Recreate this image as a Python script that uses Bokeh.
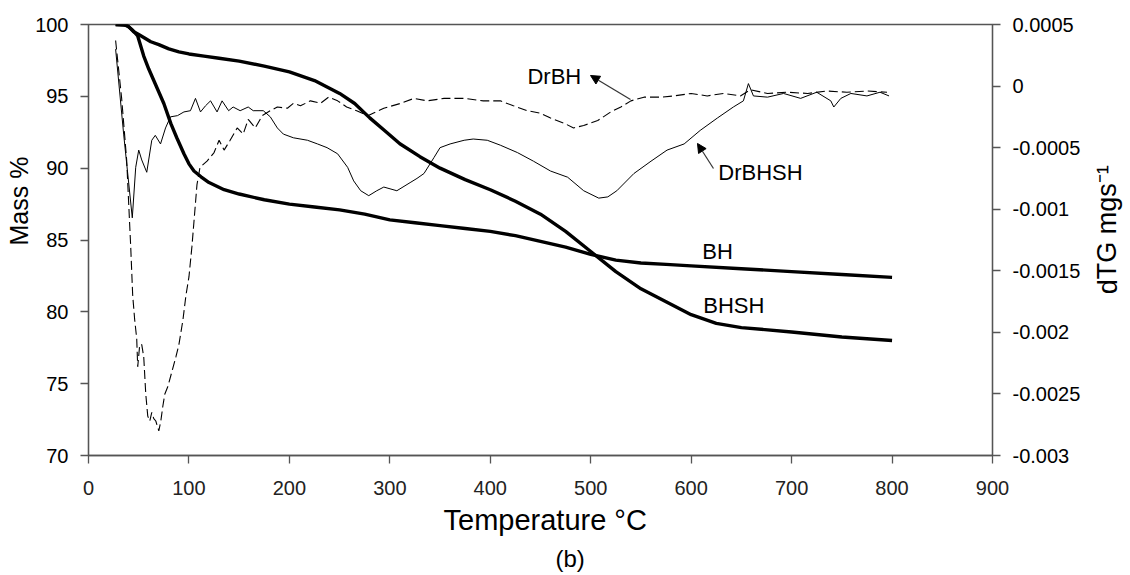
from bokeh.plotting import figure
from bokeh.layouts import row
from bokeh.models import Range1d, LinearAxis, FixedTicker, Label, Arrow, NormalHead, Title
from bokeh.embed import file_html
from bokeh.resources import INLINE

# ---------------- data ----------------
bh_t = [27, 38, 44, 49, 55, 60, 65, 70, 75, 82, 88, 95, 100, 105, 112, 120, 135, 150, 175, 200,
        225, 250, 275, 300, 325, 350, 375, 400, 425, 450, 475, 500, 525, 550, 575, 600, 650, 700, 750, 800]
bh_m = [100, 99.95, 99.6, 99.2, 97.8, 96.9, 96.1, 95.3, 94.5, 93.1, 92.1, 91.0, 90.3, 89.8, 89.4, 89.0,
        88.5, 88.2, 87.8, 87.5, 87.3, 87.1, 86.8, 86.4, 86.2, 86.0, 85.8, 85.6, 85.3, 84.9, 84.5, 84.0,
        83.6, 83.4, 83.3, 83.2, 83.0, 82.8, 82.6, 82.4]

bhsh_t = [27, 35, 40, 45, 50, 55, 62, 70, 80, 90, 100, 115, 130, 150, 175, 200, 225, 250, 265, 280, 295,
          310, 330, 350, 375, 400, 425, 450, 475, 500, 525, 550, 575, 600, 625, 650, 700, 750, 800]
bhsh_m = [100, 100, 99.85, 99.5, 99.3, 99.1, 98.8, 98.6, 98.3, 98.1, 97.95, 97.8, 97.65, 97.45, 97.1, 96.7,
          96.1, 95.2, 94.5, 93.5, 92.6, 91.7, 90.8, 90.0, 89.2, 88.5, 87.7, 86.8, 85.6, 84.2, 82.8, 81.6,
          80.7, 79.8, 79.2, 78.9, 78.6, 78.25, 78.0]

drbh_t = [27, 33, 38, 42, 44, 46, 48, 49, 51, 53, 55, 57, 59, 61, 63, 65, 67, 70, 72, 74, 76, 79, 83, 87,
          90, 94, 97, 100, 103, 106, 108, 111, 118, 125, 130, 135, 141, 148, 154, 159, 166, 173, 181, 188,
          198, 204, 211, 221, 231, 239, 248, 257, 267, 278, 294, 311, 324, 337, 354, 374, 393, 410, 423,
          437, 450, 460, 473, 483, 493, 507, 520, 530, 540, 553, 570, 583, 600, 616, 632, 649, 659, 676,
          696, 716, 735, 755, 775, 795]
drbh_d = [0.00037, -0.0001, -0.0006, -0.0013, -0.0017, -0.0019, -0.00205, -0.00228, -0.0021, -0.0021,
          -0.0022, -0.0025, -0.00268, -0.00272, -0.00265, -0.0027, -0.00272, -0.0028, -0.00272, -0.0026,
          -0.0025, -0.00244, -0.00232, -0.0022, -0.0021, -0.0019, -0.0017, -0.00155, -0.0013, -0.001,
          -0.0008, -0.00066, -0.00061, -0.00054, -0.00044, -0.00052, -0.00044, -0.00034, -0.00039,
          -0.00027, -0.00034, -0.00024, -0.0002, -0.00017, -0.00018, -0.00014, -0.00016, -0.00012,
          -0.00014, -0.00009, -0.00012, -0.00017, -0.0002, -0.00024, -0.00018, -0.00014, -0.0001,
          -0.00012, -0.0001, -0.0001, -0.00012, -0.00012, -0.00016, -0.0002, -0.00022, -0.00026, -0.0003,
          -0.00034, -0.00032, -0.00028, -0.00021, -0.00017, -0.00012, -0.00009, -0.00009, -0.00008,
          -0.00006, -0.00008, -0.00006, -0.00008, -0.00003, -0.00006, -0.00005, -0.00006, -0.00004,
          -0.00005, -0.00004, -0.00005]

drbhsh_t = [27, 35, 43.6, 47, 50, 53, 58, 63, 66.5, 71.7, 76.7, 81.6, 88.6, 95, 101.5, 106.5, 111.5, 116.5,
            121.5, 128, 133, 139.5, 144, 151, 159, 164, 174, 181, 188, 194, 204, 218, 228, 237.5, 248, 258,
            264, 271, 279, 287, 294, 307, 321, 327, 334, 344, 350, 360, 374, 383, 397, 410, 427, 443, 460,
            477, 493, 508, 517, 526, 543, 560, 576, 593, 609, 626, 642, 652, 657, 662, 676, 692, 709, 725,
            739, 742, 749, 759, 775, 788, 797]
drbhsh_d = [0.0003, -0.00039, -0.00107, -0.00066, -0.00052, -0.0006, -0.0007, -0.00044, -0.0004, -0.00047,
            -0.00034, -0.00025, -0.00024, -0.00021, -0.0002, -0.0001, -0.00021, -0.00016, -0.00012,
            -0.00021, -0.00012, -0.0002, -0.00017, -0.0002, -0.00017, -0.0002, -0.0002, -0.00025, -0.00034,
            -0.00039, -0.00042, -0.00044, -0.00047, -0.0005, -0.00055, -0.00066, -0.00077, -0.00085,
            -0.00089, -0.00085, -0.00082, -0.00085, -0.00078, -0.00075, -0.00071, -0.00058, -0.0005,
            -0.00047, -0.00044, -0.00043, -0.00044, -0.00048, -0.00054, -0.00061, -0.00069, -0.00074,
            -0.00085, -0.00091, -0.0009, -0.00085, -0.00071, -0.00061, -0.00052, -0.00047, -0.00036,
            -0.00026, -0.00017, -0.00012, 0.00002, -0.00008, -0.00009, -0.00006, -0.0001, -0.00005,
            -0.00012, -0.00017, -0.0001, -0.00006, -0.00008, -0.00005, -0.00008]

x_ticks = [0, 100, 200, 300, 400, 500, 600, 700, 800, 900]
mass_ticks = [70, 75, 80, 85, 90, 95, 100]
dtg_ticks = [0.0005, 0, -0.0005, -0.001, -0.0015, -0.002, -0.0025, -0.003]
dtg_tick_labels = ["0.0005", "0", "-0.0005", "-0.001", "-0.0015", "-0.002", "-0.0025", "-0.003"]

FONT = "Liberation Sans"
AXC = "#555555"
W, H = 1088, 575          # main chart
W2 = 38                   # narrow strip that holds the right-axis title
FL, FT, FR, FB = 88, 24, 992, 455   # frame edges in page pixels

p = figure(width=W, height=H, x_range=Range1d(0, 900), y_range=Range1d(70, 100),
           output_backend="svg", toolbar_location=None, title=None,
           min_border_left=FL, min_border_right=W - FR, min_border_top=FT, min_border_bottom=H - FB)
p.extra_y_ranges = {"dtg": Range1d(-0.003, 0.0005)}
p.xgrid.visible = False
p.ygrid.visible = False
p.outline_line_color = AXC
p.outline_line_width = 1.3
p.background_fill_color = "white"
p.border_fill_color = "white"

def style(ax, size, standoff, color="black"):
    ax.axis_line_color = AXC
    ax.axis_line_width = 1.3
    ax.major_tick_line_color = AXC
    ax.major_tick_line_width = 1.3
    ax.major_tick_out = 8
    ax.major_tick_in = 0
    ax.minor_tick_line_color = None
    ax.major_label_text_font = FONT
    ax.major_label_text_font_size = size
    ax.major_label_text_color = color
    ax.major_label_standoff = standoff

xa = p.xaxis[0]
xa.ticker = FixedTicker(ticks=x_ticks)
style(xa, "20px", 17, "#222222")

ya = p.yaxis[0]
ya.ticker = FixedTicker(ticks=mass_ticks)
style(ya, "20px", 12)

ra = LinearAxis(y_range_name="dtg", ticker=FixedTicker(ticks=dtg_ticks),
                major_label_overrides={t: s for t, s in zip(dtg_ticks, dtg_tick_labels)})
style(ra, "20px", 12)
p.add_layout(ra, "right")

# ---------------- curves ----------------
p.line(drbh_t, drbh_d, y_range_name="dtg", line_color="black", line_width=1.1, line_dash="9 4")
p.line(drbhsh_t, drbhsh_d, y_range_name="dtg", line_color="black", line_width=1.0)
p.line(bh_t, bh_m, line_color="black", line_width=3.4)
p.line(bhsh_t, bhsh_m, line_color="black", line_width=3.4)

# ---------------- annotations ----------------
def lab(x, y, text, size, align="left"):
    p.add_layout(Label(x=x, y=y, text=text, text_font=FONT, text_font_size=size,
                       text_align=align, text_baseline="middle", text_color="black"))

lab(437, 96.35, "DrBH", "22px")
lab(627, 89.73, "DrBHSH", "22px")
lab(611, 84.17, "BH", "22px")
lab(612, 80.44, "BHSH", "22px")

p.add_layout(Arrow(x_start=539.6, y_start=94.78, x_end=499.8, y_end=96.45, line_color="#333333",
                   line_width=1.2, end=NormalHead(size=9, fill_color="black", line_color="black")))
p.add_layout(Arrow(x_start=622.2, y_start=89.98, x_end=606.3, y_end=91.72, line_color="#333333",
                   line_width=1.2, end=NormalHead(size=9, fill_color="black", line_color="black")))

# axis titles
p.add_layout(Title(text="Mass %", align="left", offset=210, standoff=0, text_font=FONT,
                   text_font_size="25px", text_font_style="normal", text_color="black"), "left")
p.add_layout(Title(text="Temperature °C", align="left", offset=355, standoff=9, text_font=FONT,
                   text_font_size="29px", text_font_style="normal", text_color="black"), "below")
p.add_layout(Title(text="(b)", align="left", offset=467, standoff=5, text_font=FONT,
                   text_font_size="24px", text_font_style="normal", text_color="black"), "below")

# ---------------- right-axis title in a narrow strip (pixel coordinates) ----------------
p2 = figure(width=W2, height=H, x_range=Range1d(0, W2), y_range=Range1d(0, H),
            output_backend="svg", toolbar_location=None, title=None,
            x_axis_location=None, y_axis_location=None,
            min_border_left=0, min_border_right=0, min_border_top=0, min_border_bottom=0)
p2.xgrid.visible = False
p2.ygrid.visible = False
p2.outline_line_color = None
p2.background_fill_color = "white"
p2.border_fill_color = "white"
p2.add_layout(Label(x=1107 - W, y=H - 360, text="dTG mgs\u207b\u00b9", text_font=FONT,
                    text_font_size="27px", text_align="left", text_baseline="middle",
                    angle=1.5708, text_color="black"))

layout = row(p, p2, spacing=0)
open("out.html", "w").write(file_html(layout, INLINE))
